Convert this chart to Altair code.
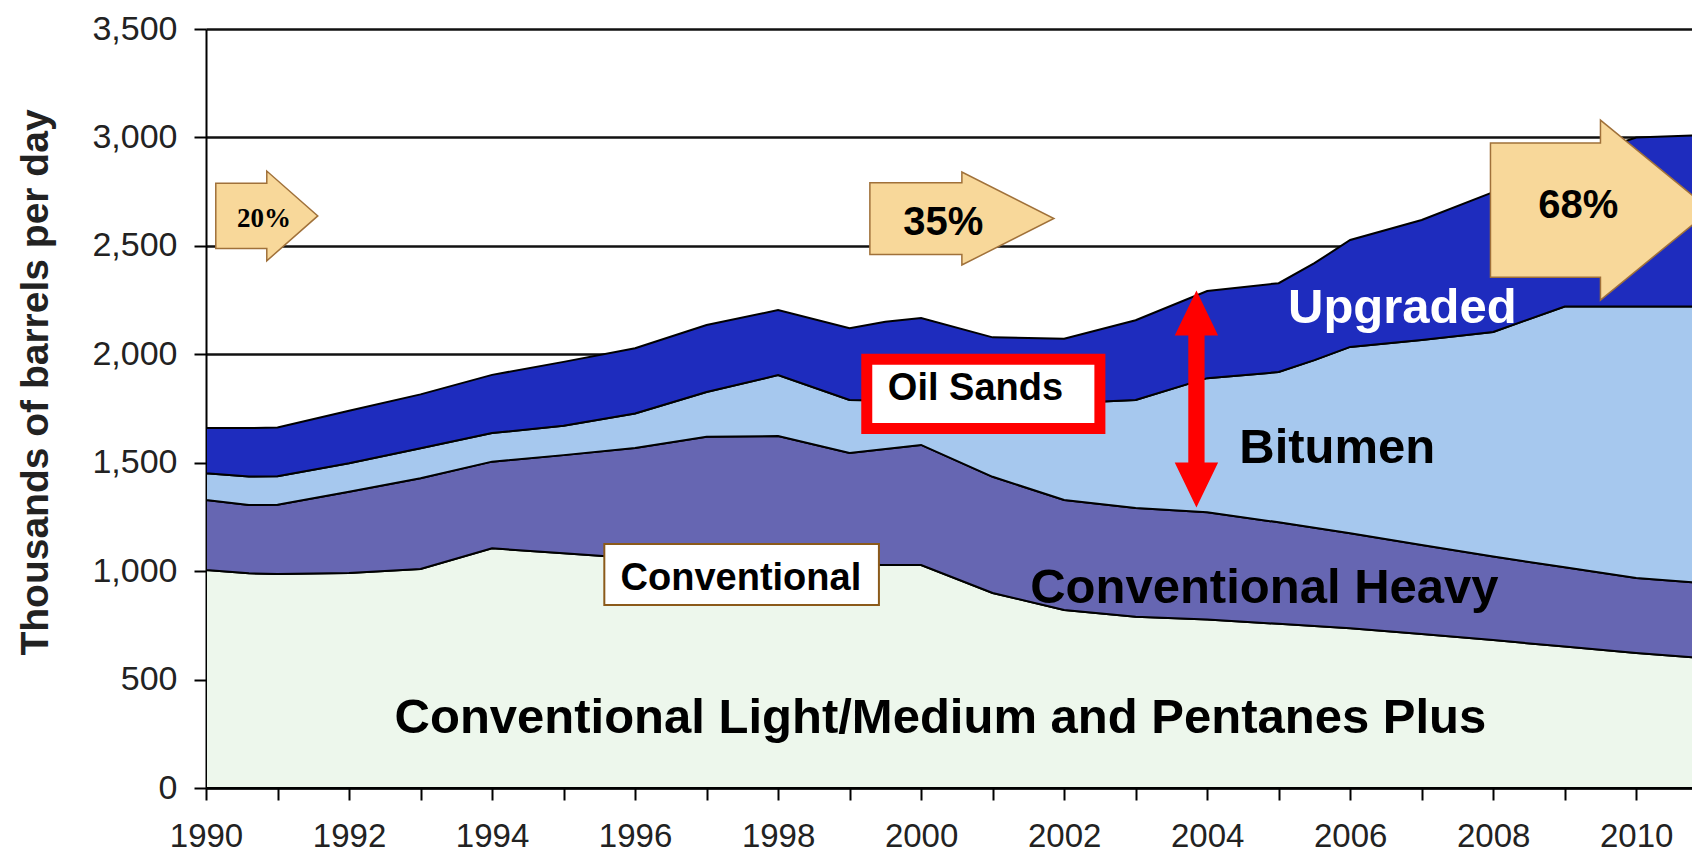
import altair as alt
import pandas as pd

# ---------------- data (thousands of barrels per day) ----------------
years = [1990, 1990.6, 1991, 1992, 1993, 1994, 1995, 1996, 1997, 1998, 1999, 1999.5,
         2000, 2001, 2002, 2003, 2004, 2005, 2005.5, 2006, 2007, 2008, 2009, 2010, 2011]
light_medium = [1005, 990, 987, 991, 1010, 1105, 1083, 1060, 1050, 1040, 1030, 1028,
                1028, 899, 821, 790, 777, 757, 747, 737, 710, 682, 652, 622, 597]
heavy = [323, 315, 319, 375, 418, 400, 452, 508, 570, 583, 515, 535,
         554, 536, 507, 501, 495, 468, 453, 438, 411, 385, 366, 346, 346]
bitumen = [124, 131, 132, 132, 139, 132, 135, 159, 206, 281, 244, 224,
           203, 343, 446, 498, 618, 693, 773, 859, 945, 1036, 1202, 1252, 1277]
upgraded = [208, 224, 224, 242, 248, 268, 295, 301, 309, 300, 331, 363,
            382, 300, 298, 368, 402, 410, 447, 493, 553, 645, 670, 780, 792]

series_names = ["Conventional Light/Medium and Pentanes Plus", "Conventional Heavy",
                "Bitumen", "Upgraded"]
series_colors = ["#EDF7EC", "#6666B2", "#A6C8EE", "#1E2CBE"]

x_ticks = list(range(1990, 2011))
y_ticks = list(range(0, 3501, 500))

# annotation anchors (year, value)
big_label_text = ["Conventional Light/Medium and Pentanes Plus", "Conventional Heavy", "Bitumen", "Upgraded"]
big_label_year = [2000.27, 2004.80, 2005.82, 2006.73]
big_label_value = [254, 853, 1499, 2144]
big_label_color = ["black", "black", "black", "white"]

box_text = ["Oil Sands", "Conventional"]
box_text_year = [2000.76, 1997.48]
box_text_value = [1789, 913]
box_year = [1999.24, 1995.57]
box_year2 = [2002.50, 1999.41]
box_value = [1977, 1125]
box_value2 = [1658, 844]

pct_text = ["35%", "68%"]
pct_year = [2000.31, 2009.19]
pct_value = [2550, 2628]
small_pct_text = ["20%"]
small_pct_year = [1990.81]
small_pct_value = [2587]

arrow_year = [1990.85, 2000.57, 2009.50]
arrow_value = [2638, 2626, 2665]
red_arrow_year = [2003.85]
red_arrow_value = [1794]

# ---------------- build tables ----------------
rows = []
for order, (name, vals) in enumerate(zip(series_names, [light_medium, heavy, bitumen, upgraded])):
    for yr, v in zip(years, vals):
        rows.append({"year": yr, "value": v, "series": name, "order": order})
df = pd.DataFrame(rows)

xs = alt.Scale(domain=[1990, 2010.78], nice=False, zero=False)
ys = alt.Scale(domain=[0, 3500], nice=False)

FONT = "Liberation Sans"

x_axis = alt.Axis(
    values=x_ticks, labelExpr="datum.value % 2 == 0 ? toString(datum.value) : ''",
    title=None, grid=False, domainColor="black", domainWidth=2,
    tickColor="black", tickWidth=2, tickSize=12,
    labelFont=FONT, labelFontSize=33, labelColor="#222", labelPadding=20,
    labelFlush=False, labelOverlap=False)
y_axis = alt.Axis(
    values=y_ticks, format=",.0f", title="Thousands of barrels per day",
    grid=True, gridColor="#111111", gridWidth=2.5,
    domainColor="black", domainWidth=2, tickColor="black", tickWidth=2, tickSize=12,
    labelFont=FONT, labelFontSize=34, labelColor="#222", labelPadding=17,
    titleFont=FONT, titleFontSize=39, titleFontWeight="bold", titleColor="#222",
    titleAngle=270, titleX=-159, titleY=353, titleAlign="center",
    titleBaseline="alphabetic")


def xenc(field="year"):
    return alt.X(f"{field}:Q", scale=xs, axis=x_axis)


def yenc(field="value", **kw):
    return alt.Y(f"{field}:Q", scale=ys, axis=y_axis, **kw)


area = alt.Chart(df).mark_area(
    stroke="black", strokeWidth=2, clip=True, interpolate="linear", opacity=1
).encode(
    x=xenc(),
    y=yenc(stack="zero"),
    color=alt.Color("series:N", scale=alt.Scale(domain=series_names, range=series_colors),
                    legend=None),
    order=alt.Order("order:Q"),
)

# boxes
oil_box = alt.Chart(pd.DataFrame({"year": box_year[:1], "year2": box_year2[:1],
                                  "value": box_value[:1], "value2": box_value2[:1]})).mark_rect(
    fill="white", stroke="#FF0000", strokeWidth=11
).encode(x=xenc(), x2="year2:Q", y=yenc(), y2="value2:Q")

conv_box = alt.Chart(pd.DataFrame({"year": box_year[1:], "year2": box_year2[1:],
                                   "value": box_value[1:], "value2": box_value2[1:]})).mark_rect(
    fill="white", stroke="#8B5A1A", strokeWidth=2
).encode(x=xenc(), x2="year2:Q", y=yenc(), y2="value2:Q")

# tan block arrows
arrow_shapes = [
    "M-1,-0.64L0,-0.64L0,-0.88L1,0L0,0.88L0,0.64L-1,0.64Z",
    "M-1,-0.39L0,-0.39L0,-0.505L1,0L0,0.505L0,0.39L-1,0.39Z",
    "M-1,-0.61L0,-0.61L0,-0.818L1,0L0,0.818L0,0.61L-1,0.61Z",
]
arrow_sizes = [10404, 33856, 48400]
arrow_layers = []
for yr, v, shp, sz in zip(arrow_year, arrow_value, arrow_shapes, arrow_sizes):
    arrow_layers.append(
        alt.Chart(pd.DataFrame({"year": [yr], "value": [v]})).mark_point(
            shape=shp, size=sz, filled=True, fill="#F8D89A", stroke="#A0713A",
            strokeWidth=1.5, opacity=1, clip=True
        ).encode(x=xenc(), y=yenc())
    )

red_arrow = alt.Chart(pd.DataFrame({"year": red_arrow_year, "value": red_arrow_value})).mark_point(
    shape="M0,-1L0.2,-0.585L0.075,-0.585L0.075,0.585L0.2,0.585L0,1L-0.2,0.585L-0.075,0.585L-0.075,-0.585L-0.2,-0.585Z",
    size=47089, filled=True, fill="#FF0000", strokeWidth=0, opacity=1
).encode(x=xenc(), y=yenc())

# texts
big_df = pd.DataFrame({"year": big_label_year, "value": big_label_value,
                       "text": big_label_text, "color": big_label_color})
big_text = alt.Chart(big_df).mark_text(
    font=FONT, fontSize=49, fontWeight="bold", align="center", baseline="alphabetic"
).encode(x=xenc(), y=yenc(), text="text:N",
         color=alt.Color("color:N", scale=None, legend=None))

box_labels = alt.Chart(pd.DataFrame({"year": box_text_year, "value": box_text_value,
                                     "text": box_text})).mark_text(
    font=FONT, fontSize=38, fontWeight="bold", align="center", baseline="alphabetic",
    color="black"
).encode(x=xenc(), y=yenc(), text="text:N")

pct_labels = alt.Chart(pd.DataFrame({"year": pct_year, "value": pct_value,
                                     "text": pct_text})).mark_text(
    font=FONT, fontSize=40, fontWeight="bold", align="center", baseline="alphabetic",
    color="black"
).encode(x=xenc(), y=yenc(), text="text:N")

small_pct = alt.Chart(pd.DataFrame({"year": small_pct_year, "value": small_pct_value,
                                    "text": small_pct_text})).mark_text(
    font="Liberation Serif", fontSize=27, fontWeight="bold", align="center",
    baseline="alphabetic", color="black"
).encode(x=xenc(), y=yenc(), text="text:N")

chart = alt.layer(
    area, conv_box, oil_box, *arrow_layers, red_arrow,
    big_text, box_labels, pct_labels, small_pct
).properties(
    width=1486, height=759,
    padding={"left": 198, "top": 21, "right": 0, "bottom": 64},
    autosize=alt.AutoSizeParams(type="none"),
    background="white",
).configure_view(strokeWidth=0)

chart.save("out.html", embed_options={"renderer": "svg", "actions": False})
